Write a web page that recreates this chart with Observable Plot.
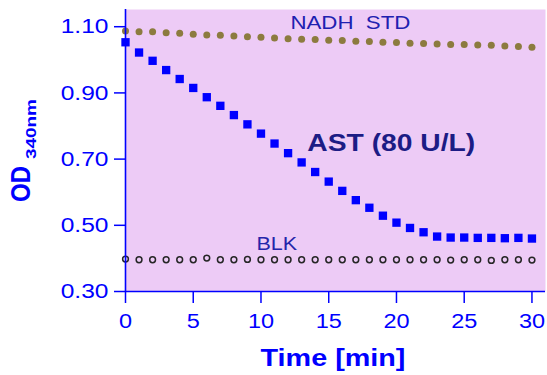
<!DOCTYPE html>
<html><head><meta charset="utf-8">
<script src="https://cdn.jsdelivr.net/npm/d3@7"></script>
<script src="https://cdn.jsdelivr.net/npm/@observablehq/plot@0.6"></script>
<style>body{margin:0;background:#fff} svg text{white-space:pre}</style>
</head><body><div id="chart"></div>
<script>
const minutes = [0,1,2,3,4,5,6,7,8,9,10,11,12,13,14,15,16,17,18,19,20,21,22,23,24,25,26,27,28,29,30];
const nadh = [1.087,1.085,1.085,1.082,1.080,1.077,1.075,1.074,1.072,1.070,1.068,1.066,1.064,1.062,1.061,1.059,1.058,1.056,1.055,1.053,1.052,1.050,1.049,1.048,1.046,1.046,1.045,1.044,1.042,1.040,1.038];
const ast = [1.053,1.022,0.997,0.969,0.942,0.915,0.887,0.861,0.833,0.805,0.777,0.747,0.718,0.690,0.661,0.632,0.604,0.576,0.553,0.529,0.508,0.492,0.479,0.466,0.463,0.463,0.462,0.462,0.461,0.462,0.460];
const blk = [0.398,0.396,0.396,0.396,0.396,0.396,0.401,0.396,0.396,0.397,0.396,0.396,0.396,0.396,0.396,0.396,0.396,0.396,0.396,0.396,0.396,0.396,0.396,0.396,0.395,0.396,0.396,0.394,0.396,0.396,0.395];
const yTicks = [0.30,0.50,0.70,0.90,1.10];
const xTicks = [0,5,10,15,20,25,30];
const labelText = ["NADH  STD","AST (80 U/L)","BLK"];
const labelX = [16.6,19.62,11.17];
const labelY = [1.111,0.748,0.445];
const xLabel = "Time [min]";
const yLabelMain = "OD";
const yLabelSub = "340nm";

const blue = "#0000ff";
const tbl = (vals) => minutes.map((m,i) => ({x:m, y:vals[i]}));
const labels = labelText.map((t,i) => ({t, x:labelX[i], y:labelY[i]}));

const svg = Plot.plot({
  width: 547, height: 375,
  marginLeft: 125, marginRight: 2, marginTop: 9, marginBottom: 84,
  style: {fontFamily: "'Liberation Sans', Arial, sans-serif", background: "#fff"},
  x: {domain: [0, 31]},
  y: {domain: [0.30, 1.152]},
  marks: [
    Plot.frame({fill: "#edcbf6", stroke: "none"}),
    Plot.dot(tbl(blk), {x:"x", y:"y", r:2.9, stroke:"#262626", strokeWidth:1.5, fill:"none"}),
    Plot.dot(tbl(nadh), {x:"x", y:"y", r:3.5, fill:"#8c7b3f", stroke:"none"}),
    Plot.dot(tbl(ast), {x:"x", y:"y", r:4.7, symbol:"square", fill:blue, stroke:"none"}),
    Plot.text(labels.slice(0,1), {x:"x", y:"y", text:"t", fontSize:19, fill:"#2020b0"}),
    Plot.text(labels.slice(1,2), {x:"x", y:"y", text:"t", fontSize:24, fontWeight:"bold", fill:"#1c1c85"}),
    Plot.text(labels.slice(2,3), {x:"x", y:"y", text:"t", fontSize:19, fill:"#2525aa"}),
    Plot.axisY({ticks: yTicks, tickFormat: d3.format(".2f"), tickSize: 11, tickPadding: 6, fontSize: 21, color: blue, strokeWidth: 1.5, label: null}),
    Plot.axisX({ticks: xTicks, tickFormat: d3.format("d"), tickSize: 12, tickPadding: 10, fontSize: 21, color: blue, strokeWidth: 1.5, label: null}),
    Plot.ruleX([0], {stroke: blue, strokeWidth: 1.6}),
    Plot.ruleY([0.30], {stroke: blue, strokeWidth: 1.6})
  ]
});
document.getElementById("chart").append(svg);

function stretch(el, k) {
  const t = el.getAttribute("transform") || "";
  const x = +el.getAttribute("x") || 0;
  el.setAttribute("transform", `${t} translate(${x},0) scale(${k},1) translate(${-x},0)`);
}
const targets = {"NADH  STD": 120, "AST (80 U/L)": 168, "BLK": 40.7};
svg.querySelectorAll("text").forEach(t => {
  const s = t.textContent;
  if (targets[s]) stretch(t, targets[s] / t.getComputedTextLength());
  else if (/^\d\.\d\d$/.test(s)) stretch(t, 1.17);
  else if (/^\d+$/.test(s)) stretch(t, 1.12);
});

const sel = d3.select(svg);
const xl = sel.append("text").attr("x", 333).attr("y", 366.5).attr("text-anchor", "middle")
  .attr("font-weight", "bold").attr("font-size", 24).attr("fill", blue).text(xLabel);
stretch(xl.node(), 145 / xl.node().getComputedTextLength());

const yl = sel.append("text").attr("transform", "translate(30,202) scale(1.14,1) rotate(-90)")
  .attr("text-anchor", "start").attr("font-weight", "bold").attr("fill", blue);
yl.append("tspan").attr("font-size", 24).text(yLabelMain);
yl.append("tspan").attr("font-size", 13).attr("dx", 7).attr("dy", 5)
  .attr("textLength", 60).attr("lengthAdjust", "spacingAndGlyphs").text(yLabelSub);
</script>
</body></html>
